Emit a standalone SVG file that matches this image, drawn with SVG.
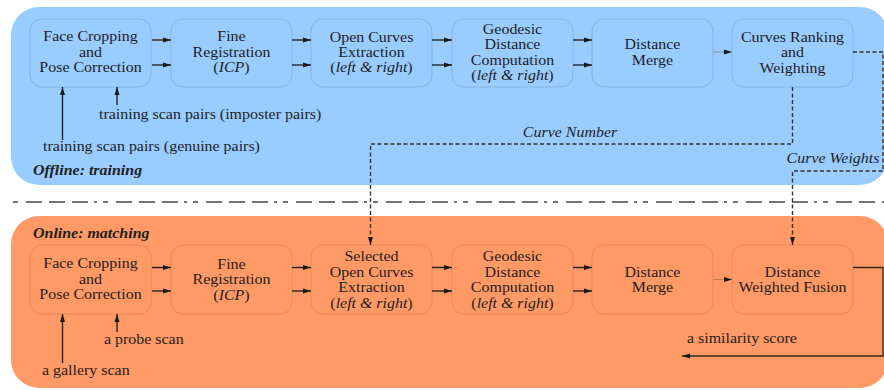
<svg xmlns="http://www.w3.org/2000/svg" width="884" height="390" viewBox="0 0 884 390">
<style>
.t{font-family:"Liberation Serif","Tinos","Times New Roman","DejaVu Serif",serif;font-size:14.5px;fill:#1e1e1e}
.c{text-anchor:middle}
.i{font-style:italic}
.bi{font-style:italic;font-weight:bold}
.boxT{fill:#99ccff;stroke:#86b5e4;stroke-width:1}
.boxB{fill:#ff9966;stroke:#e88b5c;stroke-width:1}
.ar{stroke:#1a1a1a;stroke-width:1.3;fill:none}
.arl{stroke:#7f97b0;stroke-width:1.1;fill:none}
.arlo{stroke:#c9805a;stroke-width:1.1;fill:none}
.dash{stroke:#333;stroke-width:1.4;fill:none;stroke-dasharray:4 2.5}
.sep{stroke:#444;stroke-width:1.3;fill:none;stroke-dasharray:16 7 16 7 16 6 3 6 5 8}
</style>
<defs>
<marker id="ah" markerUnits="userSpaceOnUse" markerWidth="8" markerHeight="6" refX="8" refY="3" orient="auto">
<path d="M0,0.5 L8,3 L0,5.5 Z" fill="#1a1a1a"/>
</marker>
</defs>

<rect x="11" y="7" width="877" height="178" rx="28" fill="#99ccff"/>
<rect x="11" y="216" width="877" height="172" rx="28" fill="#ff9966"/>
<line class="sep" x1="11" y1="202" x2="884" y2="202" stroke-dashoffset="75"/>

<g id="t1"><rect class="boxT" x="30" y="19" width="121" height="68" rx="12"/>
<g transform="translate(90.5,0) scale(1.1,1)"><text class="t c" x="0" y="41.5">Face Cropping</text><text class="t c" x="0" y="57">and</text><text class="t c" x="0" y="72.5">Pose Correction</text></g></g>
<g id="t2"><rect class="boxT" x="171" y="19" width="121" height="68" rx="12"/>
<g transform="translate(231.5,0) scale(1.1,1)"><text class="t c" x="0" y="41.5">Fine</text><text class="t c" x="0" y="57">Registration</text><text class="t c" x="0" y="72.5">(<tspan class="i">ICP</tspan>)</text></g></g>
<g id="t3"><rect class="boxT" x="311" y="19" width="121" height="68" rx="12"/>
<g transform="translate(371.5,0) scale(1.1,1)"><text class="t c" x="0" y="42.5">Open Curves</text><text class="t c" x="0" y="57.5">Extraction</text><text class="t c" x="0" y="72.5">(<tspan class="i">left &amp; right</tspan>)</text></g></g>
<g id="t4"><rect class="boxT" x="452" y="19" width="121" height="68" rx="12"/>
<g transform="translate(512.5,0) scale(1.1,1)"><text class="t c" x="0" y="34">Geodesic</text><text class="t c" x="0" y="49.5">Distance</text><text class="t c" x="0" y="65">Computation</text><text class="t c" x="0" y="80.5">(<tspan class="i">left &amp; right</tspan>)</text></g></g>
<g id="t5"><rect class="boxT" x="592" y="19" width="121" height="68" rx="12"/>
<g transform="translate(652.5,0) scale(1.1,1)"><text class="t c" x="0" y="49.5">Distance</text><text class="t c" x="0" y="65">Merge</text></g></g>
<g id="t6"><rect class="boxT" x="732" y="19" width="121" height="68" rx="12"/>
<g transform="translate(792.5,0) scale(1.1,1)"><text class="t c" x="0" y="42">Curves Ranking</text><text class="t c" x="0" y="57.5">and</text><text class="t c" x="0" y="73">Weighting</text></g></g>

<g id="b1"><rect class="boxB" x="30" y="245" width="121" height="69" rx="12"/>
<g transform="translate(90.5,0) scale(1.1,1)"><text class="t c" x="0" y="268.5">Face Cropping</text><text class="t c" x="0" y="284">and</text><text class="t c" x="0" y="299.5">Pose Correction</text></g></g>
<g id="b2"><rect class="boxB" x="171" y="245" width="121" height="69" rx="12"/>
<g transform="translate(231.5,0) scale(1.1,1)"><text class="t c" x="0" y="269">Fine</text><text class="t c" x="0" y="284.5">Registration</text><text class="t c" x="0" y="300">(<tspan class="i">ICP</tspan>)</text></g></g>
<g id="b3"><rect class="boxB" x="311" y="245" width="121" height="69" rx="12"/>
<g transform="translate(371.5,0) scale(1.1,1)"><text class="t c" x="0" y="261.5">Selected</text><text class="t c" x="0" y="277">Open Curves</text><text class="t c" x="0" y="292.5">Extraction</text><text class="t c" x="0" y="308">(<tspan class="i">left &amp; right</tspan>)</text></g></g>
<g id="b4"><rect class="boxB" x="452" y="245" width="121" height="69" rx="12"/>
<g transform="translate(512.5,0) scale(1.1,1)"><text class="t c" x="0" y="261.5">Geodesic</text><text class="t c" x="0" y="277">Distance</text><text class="t c" x="0" y="292.5">Computation</text><text class="t c" x="0" y="308">(<tspan class="i">left &amp; right</tspan>)</text></g></g>
<g id="b5"><rect class="boxB" x="592" y="245" width="121" height="69" rx="12"/>
<g transform="translate(652.5,0) scale(1.1,1)"><text class="t c" x="0" y="277">Distance</text><text class="t c" x="0" y="292.5">Merge</text></g></g>
<g id="b6"><rect class="boxB" x="732" y="245" width="121" height="69" rx="12"/>
<g transform="translate(792.5,0) scale(1.1,1)"><text class="t c" x="0" y="277">Distance</text><text class="t c" x="0" y="292.5">Weighted Fusion</text></g></g>

<g id="labels">
<g transform="translate(99,0) scale(1.1,1)"><text class="t" x="0" y="119">training scan pairs (imposter pairs)</text></g>
<g transform="translate(43,0) scale(1.1,1)"><text class="t" x="0" y="151">training scan pairs (genuine pairs)</text></g>
<g transform="translate(33,0) scale(1.1,1)"><text class="t bi" x="0" y="175">Offline: training</text></g>
<g transform="translate(33,0) scale(1.1,1)"><text class="t bi" x="0" y="238">Online: matching</text></g>
<g transform="translate(570,0) scale(1.1,1)"><text class="t c i" x="0" y="137">Curve Number</text></g>
<g transform="translate(833,0) scale(1.1,1)"><text class="t c i" x="0" y="163">Curve Weights</text></g>
<g transform="translate(104,0) scale(1.1,1)"><text class="t" x="0" y="344">a probe scan</text></g>
<g transform="translate(42,0) scale(1.1,1)"><text class="t" x="0" y="375">a gallery scan</text></g>
<g transform="translate(687,0) scale(1.1,1)"><text class="t" x="0" y="343">a similarity score</text></g>
</g>

<g id="connectors">
<path class="ar" marker-end="url(#ah)" d="M152,40 H171"/>
<path class="ar" marker-end="url(#ah)" d="M152,65 H171"/>
<path class="ar" marker-end="url(#ah)" d="M292,40 H311"/>
<path class="ar" marker-end="url(#ah)" d="M292,65 H311"/>
<path class="ar" marker-end="url(#ah)" d="M432,40 H452"/>
<path class="ar" marker-end="url(#ah)" d="M432,65 H452"/>
<path class="ar" marker-end="url(#ah)" d="M573,40 H592"/>
<path class="ar" marker-end="url(#ah)" d="M573,65 H592"/>
<path class="arl" marker-end="url(#ah)" d="M713,52 H732"/>
<path class="ar" marker-end="url(#ah)" d="M62.5,140 V87"/>
<path class="ar" marker-end="url(#ah)" d="M117,105 V87"/>

<path class="ar" marker-end="url(#ah)" d="M152,267.5 H171"/>
<path class="ar" marker-end="url(#ah)" d="M152,291 H171"/>
<path class="ar" marker-end="url(#ah)" d="M292,267.5 H311"/>
<path class="ar" marker-end="url(#ah)" d="M292,291 H311"/>
<path class="ar" marker-end="url(#ah)" d="M432,267.5 H452"/>
<path class="ar" marker-end="url(#ah)" d="M432,291 H452"/>
<path class="ar" marker-end="url(#ah)" d="M573,267.5 H592"/>
<path class="ar" marker-end="url(#ah)" d="M573,291 H592"/>
<path class="arlo" marker-end="url(#ah)" d="M713,279.5 H732"/>
<path class="ar" marker-end="url(#ah)" d="M62.5,363 V314"/>
<path class="ar" marker-end="url(#ah)" d="M117,332 V314"/>

<path class="dash" marker-end="url(#ah)" d="M792.5,87 V144 H370.5 V245"/>
<path class="dash" marker-end="url(#ah)" d="M853,52 H883 V171 H792.5 V245"/>
<path class="ar" style="stroke:#3a2418" marker-end="url(#ah)" d="M853,267.5 H883 V356 H682"/>
</g>
</svg>
